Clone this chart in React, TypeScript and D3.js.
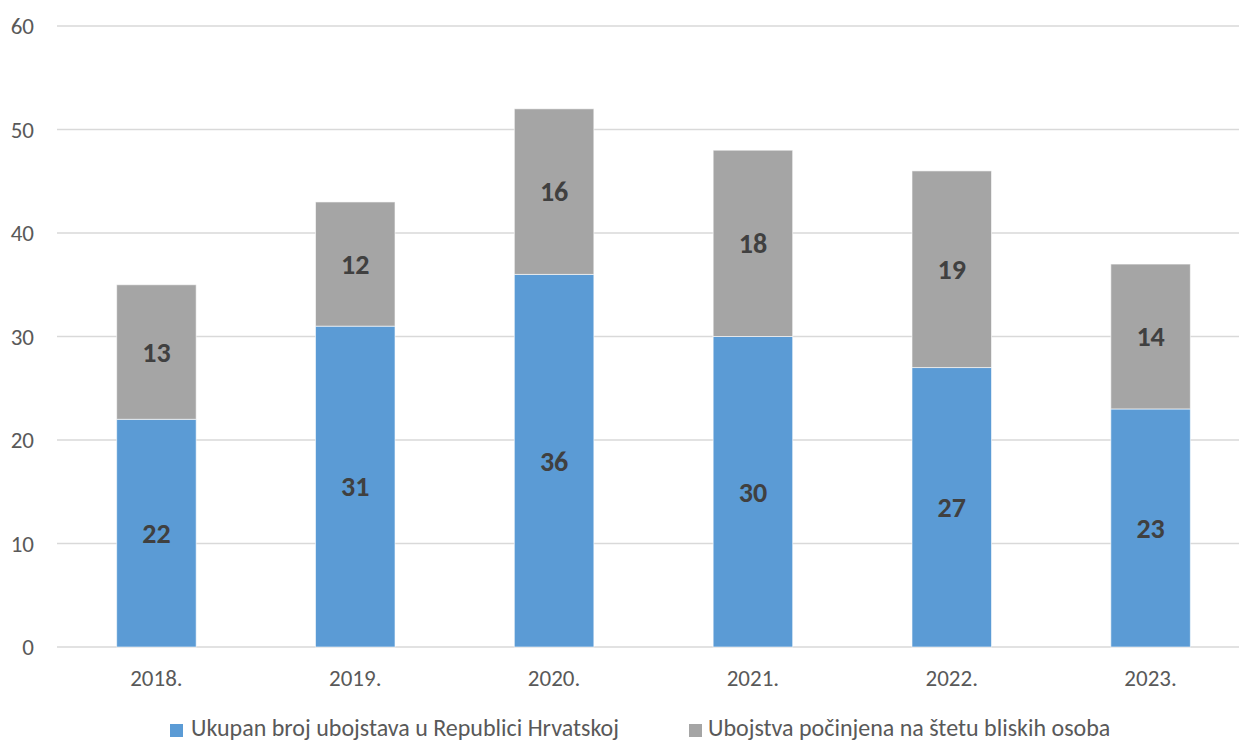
import React from "react";
import * as d3 from "d3";

const categories = ["2018.", "2019.", "2020.", "2021.", "2022.", "2023."];
const totalSeries = [22, 31, 36, 30, 27, 23];
const closeSeries = [13, 12, 16, 18, 19, 14];
const yTicks = [0, 10, 20, 30, 40, 50, 60];
const seriesNames = [
  "Ukupan broj ubojstava u Republici Hrvatskoj",
  "Ubojstva počinjena na štetu bliskih osoba",
];
const colors = ["#5B9BD5", "#A5A5A5"];

export default function App() {
  const W = 1239, H = 742;
  const left = 57, right = 1250, top = 26, bottom = 647;
  const x = d3.scaleBand().domain(categories).range([left, right]).paddingInner(0.6).paddingOuter(0.3);
  const y = d3.scaleLinear().domain([0, 60]).range([bottom, top]);
  const font = "Carlito, Lato, 'Open Sans', sans-serif";
  const data = categories.map((c, i) => ({ c, a: totalSeries[i], b: closeSeries[i] }));
  return (
    <svg width={W} height={H} style={{ position: "absolute", left: 0, top: 0 }} fontFamily={font}>
      <rect width={W} height={H} fill="#fff" />
      {yTicks.map((t) => (
        <g key={t}>
          <line x1={left} x2={W} y1={y(t)} y2={y(t)} stroke="#D9D9D9" strokeWidth={1.5} />
          <text x={34} y={y(t)} dy="0.35em" textAnchor="end" fontSize={23} fill="#595959">{t}</text>
        </g>
      ))}
      {data.map((d) => {
        const bx = x(d.c)!;
        const bw = x.bandwidth();
        return (
          <g key={d.c}>
            <rect x={bx} y={y(d.a)} width={bw} height={y(0) - y(d.a)} fill={colors[0]} stroke="#fff" strokeOpacity={0.6} strokeWidth={1} />
            <rect x={bx} y={y(d.a + d.b)} width={bw} height={y(d.a) - y(d.a + d.b)} fill={colors[1]} stroke="#fff" strokeOpacity={0.6} strokeWidth={1} />
            <text x={bx + bw / 2} y={y(d.a / 2)} dy="0.35em" textAnchor="middle" fontSize={28} fontWeight="bold" fill="#404040">{d.a}</text>
            <text x={bx + bw / 2} y={y(d.a + d.b / 2)} dy="0.35em" textAnchor="middle" fontSize={28} fontWeight="bold" fill="#404040">{d.b}</text>
            <text x={bx + bw / 2} y={678} dy="0.35em" textAnchor="middle" fontSize={23} fill="#595959">{d.c}</text>
          </g>
        );
      })}
      <g>
        <rect x={170} y={724} width={13} height={13} fill={colors[0]} />
        <text x={191} y={736} fontSize={24} fill="#595959">{seriesNames[0]}</text>
        <rect x={689} y={724} width={13} height={13} fill={colors[1]} />
        <text x={708} y={736} fontSize={24} fill="#595959">{seriesNames[1]}</text>
      </g>
    </svg>
  );
}
